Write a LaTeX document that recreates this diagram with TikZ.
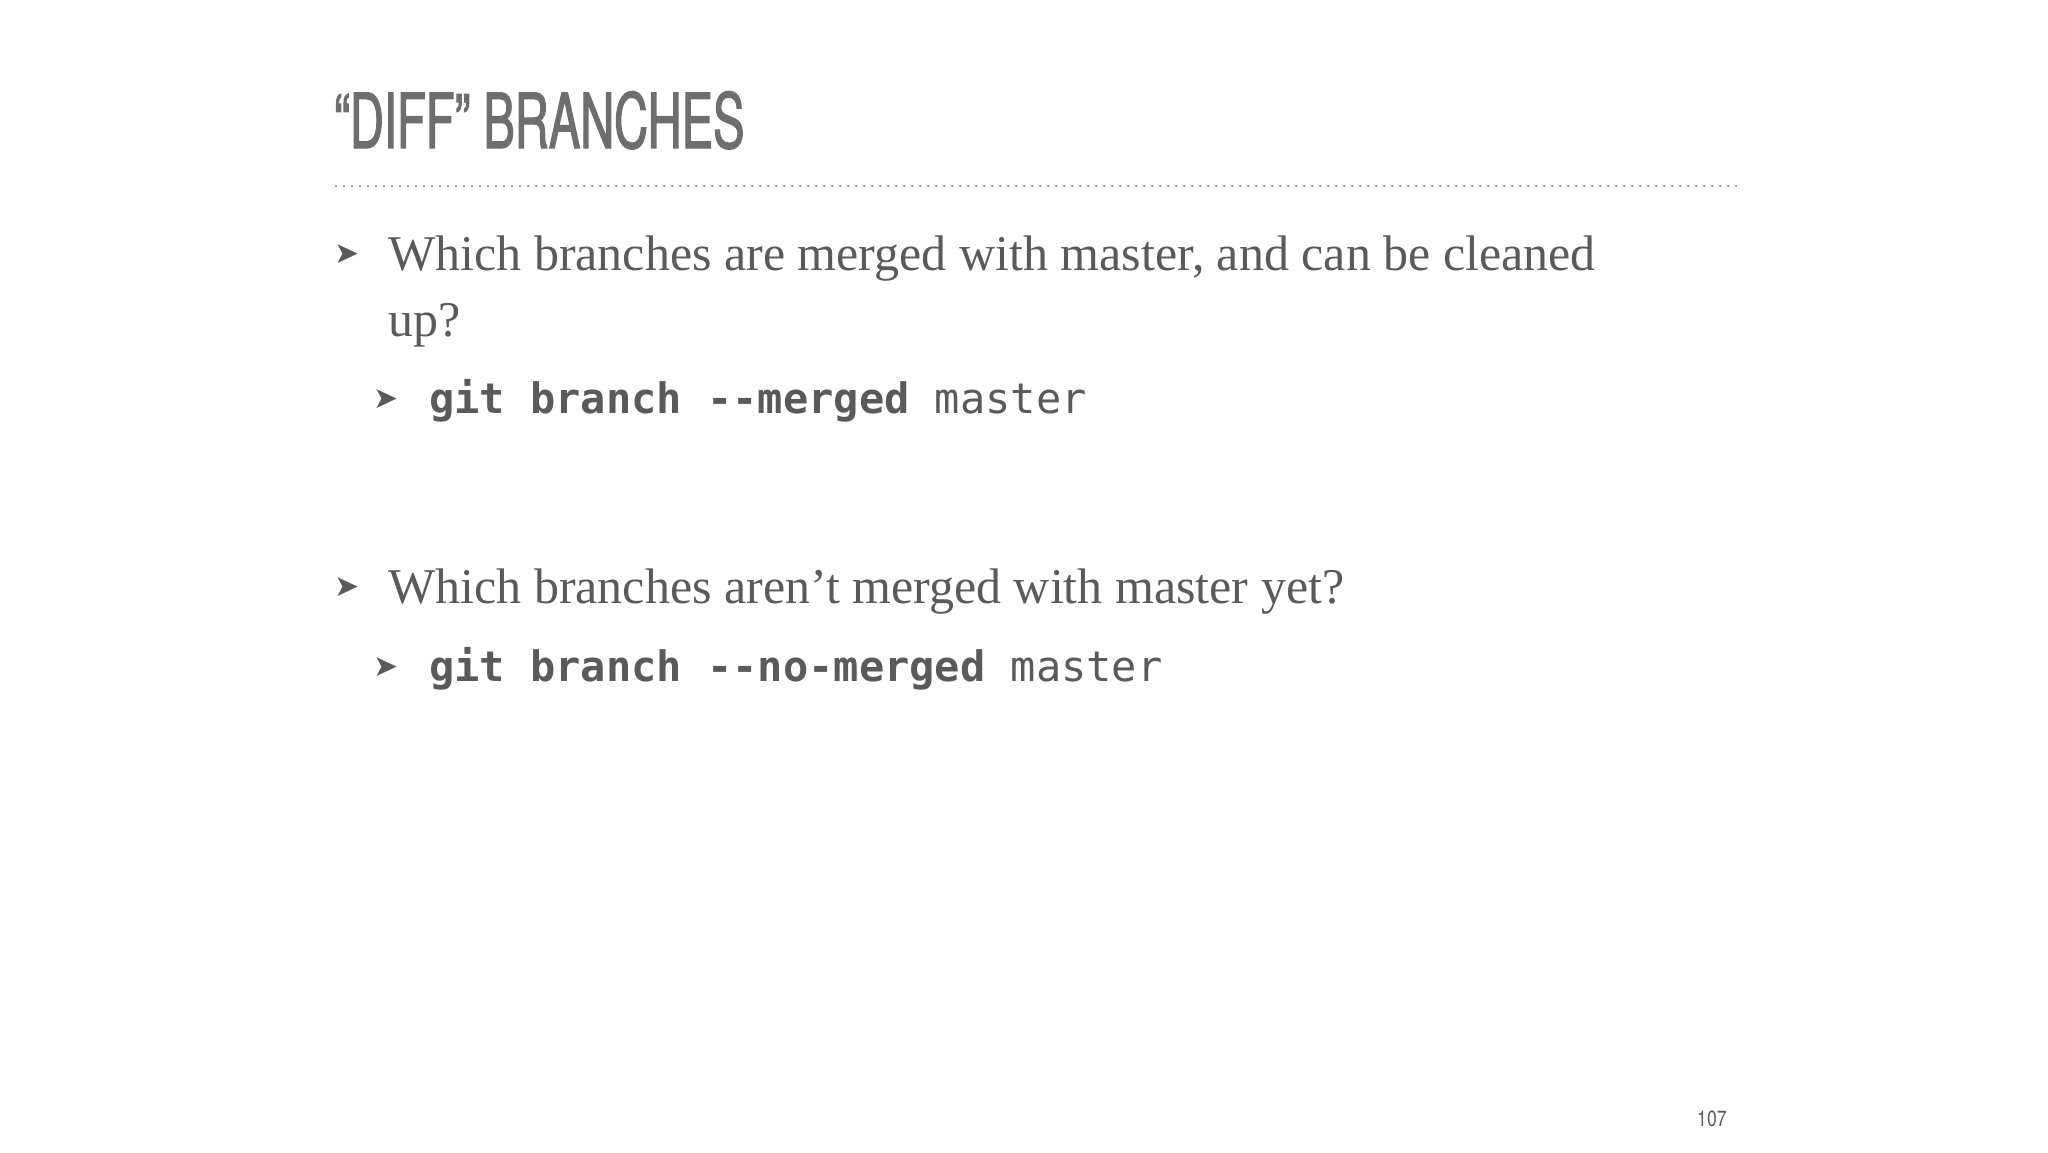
\documentclass[tikz,border=0pt]{standalone}
\usepackage{fontspec}
\setmainfont{Liberation Serif}
\newfontfamily\titlefont[FakeStretch=0.62,FakeBold=1.5]{TeX Gyre Heros}
\newfontfamily\codefont{DejaVu Sans Mono}
\newfontfamily\symfont{DejaVu Sans}
\newfontfamily\numfont[FakeStretch=0.8]{TeX Gyre Heros}
\definecolor{txt}{HTML}{5A5A5A}
\definecolor{ttl}{HTML}{6E6E6E}
\begin{document}
\begin{tikzpicture}[x=1pt,y=-1pt,
  lab/.style={anchor=base west,inner sep=0pt,text=txt},
  body/.style={lab,font=\fontsize{50}{60}\selectfont},
  code/.style={lab,font=\fontsize{42}{50}\selectfont\codefont},
  arr/.style={lab,font=\fontsize{30}{36}\selectfont\symfont}]
\useasboundingbox (0,0) rectangle (2048,1152);
\node[lab,text=ttl,font=\fontsize{76}{80}\selectfont\titlefont] (title) at (334,148) {“DIFF” BRANCHES};
\coordinate (l1) at (336,186); \coordinate (l2) at (1739,186);
\draw[ttl,line width=2pt,dash pattern=on 0pt off 8pt,line cap=round] (l1) -- (l2);
\node[arr] (a1) at (334,263) {➤};
\node[body] (t1) at (388,270) {Which branches are merged with master, and can be cleaned};
\node[body] (t1b) at (388,336) {up?};
\node[arr] (a2) at (373,408) {➤};
\node[code] (c1) at (429,413) {\textbf{git branch --merged} master};
\node[arr] (a3) at (334,596) {➤};
\node[body] (t2) at (388,603) {Which branches aren’t merged with master yet?};
\node[arr] (a4) at (373,676) {➤};
\node[code] (c2) at (429,681) {\textbf{git branch --no-merged} master};
\node[lab,font=\fontsize{22}{26}\selectfont\numfont] (pg) at (1697,1126) {107};
\end{tikzpicture}
\end{document}
